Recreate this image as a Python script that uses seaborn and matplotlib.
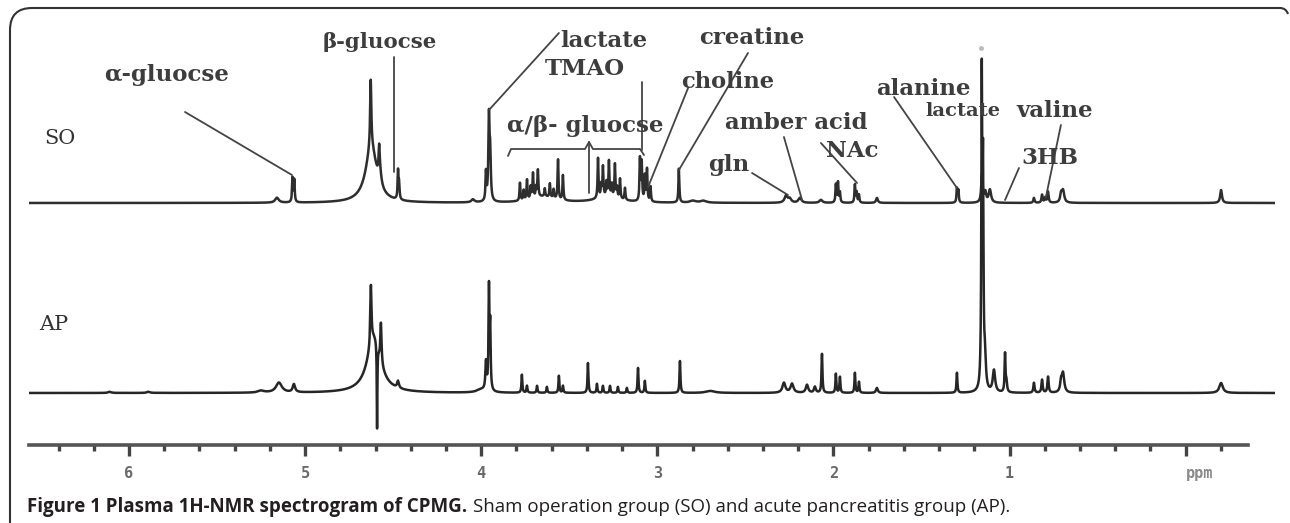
import numpy as np
import pandas as pd
import matplotlib
matplotlib.use("Agg")
import matplotlib.pyplot as plt
from matplotlib.path import Path
from matplotlib.patches import PathPatch
from matplotlib.ticker import MultipleLocator
import seaborn as sns

# ---------------- data ----------------
# SO spectrum peaks: chemical shift (ppm), height, half width (ppm)
so_ppm = [5.16, 5.072, 5.062, 4.625, 4.628, 4.580, 4.575, 4.473, 4.467, 4.048,
          3.974, 3.957, 3.950,
          3.781, 3.760, 3.741, 3.720, 3.707, 3.690, 3.679, 3.640, 3.611, 3.590, 3.565, 3.537, 3.650,
          3.338, 3.320, 3.310, 3.290, 3.276, 3.260, 3.242, 3.230, 3.213, 3.185, 3.280,
          3.100, 3.090, 3.072, 3.060, 3.040,
          2.879, 2.800, 2.740,
          2.271, 2.250, 2.192, 2.073,
          1.988, 1.976, 1.965, 1.880, 1.870, 1.857, 1.755,
          1.301, 1.293,
          1.159, 1.140, 1.114,
          0.864, 0.818, 0.800, 0.784, 0.710, 0.699,
          -0.198]
so_height = [5, 24, 22, 55, 68, 28, 10, 28, 15, 3,
             28, 82, 42,
             18, 10, 20, 12, 25, 10, 27, 8, 14, 9, 40, 25, 6,
             40, 12, 30, 14, 35, 12, 33, 10, 20, 12, 6,
             42, 38, 25, 32, 15,
             34, 2, 2,
             7, 4, 5, 3,
             18, 20, 10, 18, 10, 8, 5,
             14, 12,
             28, 10, 13,
             5, 8, 5, 11, 8, 12,
             13]
so_hw = [0.012, 0.003, 0.003, 0.038, 0.004, 0.004, 0.010, 0.003, 0.003, 0.010,
         0.003, 0.004, 0.004,
         0.003, 0.003, 0.003, 0.003, 0.003, 0.003, 0.003, 0.003, 0.003, 0.003, 0.003, 0.003, 0.080,
         0.003, 0.003, 0.003, 0.003, 0.003, 0.003, 0.003, 0.003, 0.003, 0.003, 0.080,
         0.003, 0.003, 0.003, 0.003, 0.003,
         0.003, 0.020, 0.020,
         0.010, 0.010, 0.010, 0.010,
         0.003, 0.003, 0.003, 0.003, 0.003, 0.003, 0.006,
         0.003, 0.003,
         0.005, 0.006, 0.008,
         0.004, 0.004, 0.004, 0.004, 0.006, 0.008,
         0.006]

# AP spectrum peaks
ap_ppm = [6.11, 5.89, 5.25, 5.149, 5.064,
          4.610, 4.627, 4.570, 4.592, 4.473, 4.000,
          3.974, 3.957, 3.950,
          3.770, 3.741, 3.684, 3.628, 3.560, 3.537,
          3.395, 3.344, 3.310, 3.270, 3.225, 3.174, 3.111, 3.072,
          2.873, 2.700,
          2.283, 2.237, 2.152, 2.107, 2.067, 1.988, 1.965, 1.880, 1.857, 1.755,
          1.301,
          1.160, 1.153, 1.142, 1.091, 1.028, 1.020,
          0.864, 0.818, 0.784, 0.710, 0.699,
          -0.198]
ap_height = [1.2, 1.2, 2, 10, 8,
             55, 60, 40, -85, 7, 3,
             28, 100, 60,
             18, 7, 7, 6, 17, 7,
             30, 9, 7, 7, 6, 5, 25, 12,
             32, 2,
             10, 9, 8, 6, 39, 19, 16, 20, 11, 5,
             20,
             300, 200, 30, 22, 38, 10,
             10, 13, 16, 10, 19,
             10]
ap_hw = [0.010, 0.010, 0.020, 0.020, 0.008,
         0.045, 0.004, 0.004, 0.002, 0.006, 0.030,
         0.004, 0.003, 0.003,
         0.003, 0.003, 0.003, 0.003, 0.003, 0.003,
         0.003, 0.003, 0.003, 0.003, 0.003, 0.003, 0.003, 0.003,
         0.003, 0.030,
         0.010, 0.010, 0.008, 0.006, 0.003, 0.003, 0.003, 0.003, 0.003, 0.006,
         0.003,
         0.003, 0.003, 0.006, 0.008, 0.003, 0.004,
         0.004, 0.004, 0.004, 0.006, 0.008,
         0.012]

groups = ["SO", "AP"]
group_offsets = [190, 0]

tick_major = [6, 5, 4, 3, 2, 1, 0]
tick_labels = ["6", "5", "4", "3", "2", "1", "ppm"]

# metabolite annotations: text, (ppm, intensity) of text centre, target width px
labels = ["α-gluocse", "β-gluocse", "lactate", "TMAO", "α/β- gluocse", "creatine",
          "choline", "amber acid", "gln", "NAc", "alanine", "lactate", "valine", "3HB"]
label_ppm = [5.784, 4.575, 3.304, 3.412, 3.412, 2.464, 2.600, 2.215, 2.595, 1.897,
             1.494, 1.267, 0.745, 0.773]
label_int = [318, 351, 352, 324, 267, 355, 311, 270, 228, 242, 304, 282, 282, 235]
label_width = [150, 114, 88, 104, 176, 119, 93, 163, 45, 67, 104, 75, 115, 67]

# pointer lines (ppm0, int0, ppm1, int1)
pointers = [
    (5.682, 281, 5.075, 218),   # α-glucose
    (4.496, 336, 4.496, 221),   # β-glucose
    (3.957, 283, 3.560, 360),   # lactate
    (3.089, 311, 3.089, 243),   # TMAO
    (3.389, 251, 3.389, 200),   # α/β-glucose bracket centre
    (2.487, 340, 2.879, 223),   # creatine
    (2.827, 305, 3.054, 206),   # choline
    (2.283, 256, 2.180, 193),   # amber acid
    (2.464, 220, 2.260, 198),   # gln
    (2.073, 250, 1.868, 210),   # NAc
    (1.658, 296, 1.301, 205),   # alanine
    (0.711, 268, 0.796, 196),   # valine
    (0.949, 225, 1.028, 193),   # 3HB
]
bracket_ppm = [3.849, 3.832, 3.412, 3.389, 3.367, 3.100, 3.077]
bracket_int = [237, 244, 244, 251, 244, 244, 238]

caption_bold = "Figure 1 Plasma 1H-NMR spectrogram of CPMG."
caption_rest = "Sham operation group (SO) and acute pancreatitis group (AP)."

# ---------------- build spectra ----------------
grid = np.arange(-0.504, 6.5676, 0.0004)


def lorentz_sum(pos, hgt, hw):
    p = np.asarray(pos, float)[:, None]
    h = np.asarray(hgt, float)[:, None]
    w = np.asarray(hw, float)[:, None]
    return (h * w ** 2 / ((grid[None, :] - p) ** 2 + w ** 2)).sum(axis=0)


frames = []
for g, off, (pp, hh, ww) in zip(groups, group_offsets,
                                [(so_ppm, so_height, so_hw), (ap_ppm, ap_height, ap_hw)]):
    frames.append(pd.DataFrame({"ppm": grid,
                                "intensity": lorentz_sum(pp, hh, ww) + off,
                                "group": g}))
df = pd.concat(frames, ignore_index=True)

# ---------------- figure ----------------
sns.set_theme(style="white")
plt.rcParams["font.family"] = ["DejaVu Serif", "DejaVu Sans"]

W, H = 1290, 523
fig = plt.figure(figsize=(W / 100, H / 100), dpi=100)
fig.patch.set_facecolor("white")

ax = fig.add_axes([29 / W, (H - 445) / H, (1275 - 29) / W, (445 - 8) / H])
sns.lineplot(data=df, x="ppm", y="intensity", hue="group",
             palette={"SO": "#2e2e2e", "AP": "#262626"}, estimator=None,
             sort=False, legend=False, linewidth=1.8, ax=ax)
ax.set_xlim(6.5675, -0.504)
ax.set_ylim(-52, 385)
ax.axis("off")

# group labels
ax.text(6.392, 255, "SO", ha="center", va="center", fontsize=15,
        color="#333333", family=["DejaVu Serif"])
ax.text(6.426, 69, "AP", ha="center", va="center", fontsize=15,
        color="#333333", family=["DejaVu Serif"])

# pointer lines and bracket
for (p0, i0, p1, i1) in pointers:
    ax.plot([p0, p1], [i0, i1], color="#444444", lw=1.3, solid_capstyle="round")
ax.plot(bracket_ppm, bracket_int, color="#444444", lw=1.3)
ax.plot([1.165], [345], marker="o", ms=2.5, color="#bbbbbb", lw=0)

# annotation texts, fitted to width
fig.canvas.draw()
renderer = fig.canvas.get_renderer()
for s, p, i, tw in zip(labels, label_ppm, label_int, label_width):
    t = ax.text(p, i, s, ha="center", va="center", fontsize=14, color="#3d3d3d",
                fontweight="bold", family=["DejaVu Serif"])
    wpx = t.get_window_extent(renderer).width
    fs = min(14 * tw / wpx, 16.5)
    t.set_fontsize(fs)

# x axis (scale bar)
ax2 = fig.add_axes([29 / W, (H - 445) / H, (1248 - 29) / W, 0.0001])
ax2.set_xlim(6.5675, -0.3536)
ax2.set_yticks([])
for sp in ["top", "left", "right"]:
    ax2.spines[sp].set_visible(False)
ax2.spines["bottom"].set_color("#555555")
ax2.spines["bottom"].set_linewidth(2.6)
ax2.patch.set_visible(False)
ax2.set_xticks(tick_major)
ax2.set_xticklabels(tick_labels)
ax2.xaxis.set_minor_locator(MultipleLocator(0.2))
ax2.tick_params(axis="x", which="both", bottom=True, top=False)
ax2.tick_params(axis="x", which="major", direction="out", length=8, width=2.4,
                color="#444444", pad=7, labelsize=11, labelcolor="#6a6a6a")
ax2.tick_params(axis="x", which="minor", direction="out", length=4.5, width=2.4,
                color="#444444")
for lab in ax2.get_xticklabels():
    lab.set_family(["DejaVu Sans Mono"])
    lab.set_fontweight("bold")
ax2.get_xticklabels()[-1].set_ha("left")
ax2.get_xticklabels()[-1].set_color("#8a8a8a")

# caption
fig.canvas.draw()
cb = fig.text(27 / W, (H - 507) / H, caption_bold, ha="left", va="center",
              fontsize=13.5, fontweight="bold", color="#231f20",
              family=["Open Sans", "DejaVu Sans"])
fig.canvas.draw()
bb = cb.get_window_extent(fig.canvas.get_renderer())
fig.text((bb.x1 + 6) / W, (H - 507) / H, caption_rest, ha="left", va="center",
         fontsize=13.5, color="#231f20", family=["Open Sans", "DejaVu Sans"])

# frame (rounded top-left corner, open at right)
def fpt(x, y):
    return (x / W, (H - y) / H)

verts = [fpt(10, 523), fpt(10, 30), fpt(10, 8), fpt(32, 8), fpt(1280, 8),
         fpt(1286, 8), fpt(1288, 14)]
codes = [Path.MOVETO, Path.LINETO, Path.CURVE3, Path.CURVE3, Path.LINETO,
         Path.CURVE3, Path.CURVE3]
fig.add_artist(PathPatch(Path(verts, codes), transform=fig.transFigure,
                         facecolor="none", edgecolor="#333333", lw=1.5))

fig.savefig("out.png", dpi=100, facecolor="white")
